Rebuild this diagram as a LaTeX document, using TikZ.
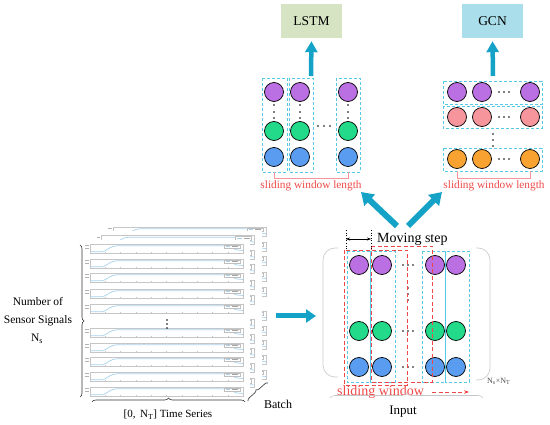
\documentclass[tikz,border=0pt]{standalone}
\usepackage{fontspec}
\setmainfont{Liberation Serif}
\usetikzlibrary{arrows.meta,decorations.pathreplacing,calc}
\definecolor{teal1}{HTML}{14A3C7}
\definecolor{cpurple}{HTML}{BA6FE2}
\definecolor{cgreen}{HTML}{22DA8A}
\definecolor{cblue}{HTML}{5A9CF0}
\definecolor{cpink}{HTML}{F7959D}
\definecolor{corange}{HTML}{F8A232}
\definecolor{ccyan}{HTML}{55C9E6}
\definecolor{cred}{HTML}{F04848}
\definecolor{lstmfill}{HTML}{D6E4C3}
\definecolor{gcnfill}{HTML}{A9DEEA}
\definecolor{curvec}{HTML}{A6D2EE}
\tikzset{
 subplot/.pic={
  \draw[gray!45,line width=0.3pt] (0,0) rectangle (153,9);
  \foreach \t in {1,...,9} \draw[gray!45,line width=0.3pt] (\t*15.3,9) -- (\t*15.3,8);
  \draw[gray!60,line width=0.5pt] (-5,1.5) -- (-1.5,1.5) (-5,4.5) -- (-1.5,4.5);
  \draw[curvec,line width=0.7pt] (0,7.8) -- (13,7.8) .. controls (19,5) and (21,1.8) .. (27,1.8) -- (132,1.8) .. controls (140,2) and (143,5) .. (147,6) -- (153,6.5);
  \draw[gray!50,line width=0.3pt,fill=white] (134,0.8) rectangle (150,4.2);
  \draw[curvec,line width=0.4pt] (135.5,2.5) -- (140,2.5);
  \draw[gray!70,line width=0.3pt] (142,2.5) -- (148,2.5);
 }
}
\begin{document}
\begin{tikzpicture}[x=1pt,y=-1pt,
 dot/.style={circle,draw=black,line width=0.7pt,minimum size=19pt,inner sep=0pt},
 cyanbox/.style={draw=ccyan,line width=0.9pt,dash pattern=on 3pt off 2pt},
 redbox/.style={draw=cred,line width=0.9pt,dash pattern=on 4pt off 2.5pt},
 bigarrow/.style={draw=teal1,line width=6pt,-{Triangle[width=15pt,length=12pt]}},
 uparrow/.style={draw=teal1,line width=4.5pt,-{Triangle[width=12pt,length=11pt]}},
 lbl/.style={font=\fontsize{11.5}{13}\selectfont,inner sep=0pt},
 redlbl/.style={font=\fontsize{11.3}{13}\selectfont,text=cred,inner sep=0pt},
 modbox/.style={font=\fontsize{13.5}{15}\selectfont,minimum width=61pt,minimum height=34pt,inner sep=0pt},
 bracket/.style={draw=cpink,line width=0.8pt}
]
\useasboundingbox (0,0) rectangle (550,425);

% ---------------- left panel: stacked pages ----------------
\foreach \k in {2,1,0}{
  \begin{scope}[shift={(11.5*\k,-8.5*\k)}]
    \fill[white] (84,240) rectangle (250,400);
    \foreach \yy in {244,259,273,289,304,328,343,357,372,387}
      \pic at (90,\yy) {subplot};
  \end{scope}
}
\foreach \yy in {320,324,328} \fill (167,\yy) circle (0.8);

\coordinate (bl) at (80,397);
\coordinate (tl) at (80,245);
\draw[decorate,decoration={brace,amplitude=4pt,mirror},line width=0.6pt,black!80] (bl) -- (tl);
\node[lbl] (nof) at (38,302) {Number of};
\node[lbl] (ss) at (38,321) {Sensor Signals};
\node[lbl] (ns) at (37,339) {N\textsubscript{s}};

\coordinate (bbl) at (92,402);
\coordinate (bbr) at (245,402);
\draw[decorate,decoration={brace,amplitude=4pt},line width=0.6pt,black!80] (bbl) -- (bbr);
\node[lbl,font=\fontsize{11}{13}\selectfont] (ts) at (168,415) {[0,\, N\textsubscript{T}] Time Series};

\coordinate (b1) at (248,401);
\coordinate (b2) at (268,383);
\draw[decorate,decoration={brace,amplitude=3pt},line width=0.6pt,black!80] (b1) -- (b2);
\node[lbl,font=\fontsize{12}{13}\selectfont] (batch) at (278,404) {Batch};

% arrow to input
\coordinate (a1) at (276,316);
\coordinate (a2) at (316,316);
\draw[draw=teal1,line width=5pt,-{Triangle[width=13pt,length=10pt]}] (a1) -- (a2);

% ---------------- input ----------------
\draw[gray!40,line width=0.7pt,rounded corners=12pt] (338,248) -- (323,248) -- (323,377) -- (338,377);
\draw[gray!40,line width=0.7pt,rounded corners=12pt] (476,248) -- (490,248) -- (490,380) -- (476,380);

\foreach \cx/\nm in {359/a,382/b,435/c,456/d}{
  \node[dot,fill=cpurple] (i\nm p) at (\cx,265) {};
  \node[dot,fill=cgreen] (i\nm g) at (\cx,331) {};
  \node[dot,fill=cblue] (i\nm b) at (\cx,367) {};
}
\foreach \yy in {265,331,367} \foreach \xx in {403,408,413} \fill (\xx,\yy) circle (0.8);
\foreach \yy in {288,294,300} \fill (408,\yy) circle (0.8);

\draw[cyanbox] (347,251) rectangle (370,382);
\draw[cyanbox] (370,251) rectangle (395,382);
\draw[cyanbox] (422,251) rectangle (445,382);
\draw[cyanbox] (445,251) rectangle (469,382);
\draw[redbox] (344,250) rectangle (407,385);
\draw[redbox] (371,246) rectangle (432,382);

% moving step
\draw[black,line width=0.6pt,dotted] (346,230) -- (346,250);
\draw[black,line width=0.6pt,dotted] (371,230) -- (371,250);
\coordinate (m1) at (346,239);
\coordinate (m2) at (371,239);
\draw[black,line width=0.6pt,{Stealth[length=4pt]}-{Stealth[length=4pt]}] (m1) -- (m2);
\node[anchor=west,inner sep=0pt,font=\fontsize{14}{15}\selectfont] (mstep) at (377,239) {Moving step};

\node[anchor=west,inner sep=0pt,font=\fontsize{14}{15}\selectfont,text=cred] (sw) at (337,392) {sliding window};
\coordinate (sw1) at (432,392);
\coordinate (sw2) at (469,392);
\draw[cred,line width=0.9pt,dash pattern=on 4pt off 2.5pt,-{Stealth[length=5pt]}] (sw1) -- (sw2);

\node[anchor=west,inner sep=0pt,font=\fontsize{8}{9}\selectfont,text=black!70] (nsnt) at (487,381) {N\textsubscript{s}×N\textsubscript{T}};

\coordinate (ib1) at (330,398);
\coordinate (ib2) at (483,398);
\draw[decorate,decoration={brace,amplitude=5pt},line width=0.6pt,gray!45] (ib1) -- (ib2);
\node[inner sep=0pt,font=\fontsize{13}{15}\selectfont] (input) at (403,412) {Input};

% big arrows
\coordinate (da1) at (397,226);
\coordinate (da2) at (361,192);
\coordinate (db1) at (408,226);
\coordinate (db2) at (442,192);
\draw[bigarrow] (da1) -- (da2);
\draw[bigarrow] (db1) -- (db2);

% ---------------- LSTM ----------------
\node[modbox,fill=lstmfill] (lstm) at (311.5,21) {LSTM};
\foreach \cx/\nm in {274/a,300/b,348/c}{
  \node[dot,fill=cpurple] (l\nm p) at (\cx,92) {};
  \node[dot,fill=cgreen] (l\nm g) at (\cx,131) {};
  \node[dot,fill=cblue] (l\nm b) at (\cx,157) {};
  \foreach \yy in {105,112,118} \fill (\cx,\yy) circle (0.9);
}
\foreach \xx in {318,324,330} \fill (\xx,126) circle (0.8);
\draw[cyanbox] (262,78) rectangle (287,172);
\draw[cyanbox] (289,78) rectangle (313,172);
\draw[cyanbox] (336,78) rectangle (360,172);
\draw[bracket] (274,172) -- (274,178) -- (348,178) -- (348,172);
\node[redlbl] (swl1) at (311,186) {sliding window length};
\coordinate (la) at (311,76);
\draw[uparrow,shorten >=3pt] (la) -- (lstm.south);

% ---------------- GCN ----------------
\node[modbox,fill=gcnfill] (gcn) at (492.5,21) {GCN};
\foreach \cy/\col/\nm in {92/cpurple/a,117/cpink/b,159/corange/c}{
  \node[dot,fill=\col] (g\nm 1) at (457,\cy) {};
  \node[dot,fill=\col] (g\nm 2) at (482,\cy) {};
  \node[dot,fill=\col] (g\nm 3) at (530,\cy) {};
  \foreach \xx in {499,504,509} \fill (\xx,\cy) circle (0.8);
}
\foreach \yy in {134,140,146} \fill (493,\yy) circle (0.8);
\draw[cyanbox] (443,81) rectangle (542,104);
\draw[cyanbox] (443,106) rectangle (542,128);
\draw[cyanbox] (443,148) rectangle (542,171);
\draw[bracket] (457,171) -- (457,178) -- (530,178) -- (530,171);
\node[redlbl] (swl2) at (494,186) {sliding window length};
\coordinate (ga) at (493,76);
\draw[uparrow,shorten >=3pt] (ga) -- (gcn.south);
\end{tikzpicture}
\end{document}
